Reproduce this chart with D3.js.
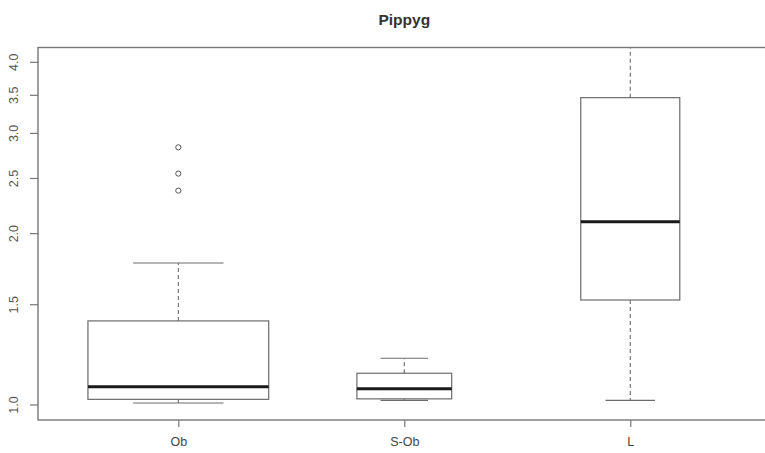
<!DOCTYPE html>
<html lang="en">
<head>
  <meta charset="UTF-8">
  <title>Pippyg</title>
  <script src="https://d3js.org/d3.v7.min.js"></script>
  <style>
    body { margin: 0; background: #fff; }
    text { font-family: "Liberation Sans", Arial, sans-serif; }
  </style>
</head>
<body>
  <svg id="chart" width="765" height="453"></svg>
  <script>
    // data
    const groups = ['Ob', 'S-Ob', 'L'];
    const counts = [40, 11, 12];
    const lowerWhisker = [1.008, 1.019, 1.019];
    const q1 = [1.023, 1.025, 1.529];
    const median = [1.076, 1.068, 2.099];
    const q3 = [1.405, 1.137, 3.467];
    const upperWhisker = [1.776, 1.208, 4.4];
    const outliers = [[2.38, 2.55, 2.836], [], []];
    const yTicks = [1.0, 1.5, 2.0, 2.5, 3.0, 3.5, 4.0];

    const svg = d3.select('#chart');
    const plotL = 38, plotR = 770.6, plotT = 47.5, plotB = 420;
    const lineCol = '#6b6b6b';

    const x = d3.scaleLinear().domain([0.379, 3.621]).range([plotL, plotR]);
    const y = d3.scaleLog().domain([0.941, 4.247]).range([plotB, plotT]);

    const maxN = d3.max(counts);
    const boxW = counts.map(n => 0.8 * Math.sqrt(n / maxN));

    svg.append('defs').append('clipPath').attr('id', 'plot')
      .append('rect').attr('x', plotL).attr('y', plotT)
      .attr('width', plotR - plotL).attr('height', plotB - plotT);

    const g = svg.append('g').attr('clip-path', 'url(#plot)');

    groups.forEach((name, i) => {
      const c = i + 1;
      const hw = boxW[i] / 2;
      const bx = g.append('g');

      // whiskers
      bx.append('line')
        .attr('x1', x(c)).attr('x2', x(c))
        .attr('y1', y(q3[i])).attr('y2', y(upperWhisker[i]))
        .attr('stroke', lineCol).attr('stroke-width', 1.1).attr('stroke-dasharray', '4,3');
      bx.append('line')
        .attr('x1', x(c)).attr('x2', x(c))
        .attr('y1', y(q1[i])).attr('y2', y(lowerWhisker[i]))
        .attr('stroke', lineCol).attr('stroke-width', 1.1).attr('stroke-dasharray', '4,3');
      // caps
      [lowerWhisker[i], upperWhisker[i]].forEach(v => {
        bx.append('line')
          .attr('x1', x(c - hw / 2)).attr('x2', x(c + hw / 2))
          .attr('y1', y(v)).attr('y2', y(v))
          .attr('stroke', lineCol).attr('stroke-width', 1.2);
      });
      // box
      bx.append('rect')
        .attr('x', x(c - hw)).attr('width', x(c + hw) - x(c - hw))
        .attr('y', y(q3[i])).attr('height', y(q1[i]) - y(q3[i]))
        .attr('fill', 'none').attr('stroke', lineCol).attr('stroke-width', 1.2);
      // median
      bx.append('line')
        .attr('x1', x(c - hw)).attr('x2', x(c + hw))
        .attr('y1', y(median[i])).attr('y2', y(median[i]))
        .attr('stroke', '#1a1a1a').attr('stroke-width', 3);
      // outliers
      bx.selectAll('circle').data(outliers[i]).join('circle')
        .attr('cx', x(c)).attr('cy', d => y(d)).attr('r', 2.6)
        .attr('fill', 'none').attr('stroke', '#555').attr('stroke-width', 1);
    });

    // frame
    svg.append('rect')
      .attr('x', plotL).attr('y', plotT)
      .attr('width', plotR - plotL).attr('height', plotB - plotT)
      .attr('fill', 'none').attr('stroke', '#777').attr('stroke-width', 1.4);

    // y axis
    const yAxis = svg.append('g').attr('transform', `translate(${plotL},0)`)
      .call(d3.axisLeft(y).tickValues(yTicks).tickSize(8).tickPadding(10)
        .tickFormat(d3.format('.1f')));
    yAxis.select('.domain').remove();
    yAxis.selectAll('line').attr('stroke', '#777').attr('stroke-width', 1.2);
    yAxis.selectAll('.tick').attr('transform', null);
    yAxis.selectAll('.tick line').attr('y1', d => y(d)).attr('y2', d => y(d));
    yAxis.selectAll('text')
      .attr('x', 0).attr('dy', 0)
      .attr('transform', d => `translate(-24,${y(d)}) rotate(-90)`)
      .attr('text-anchor', 'middle').attr('dominant-baseline', 'central')
      .attr('font-size', 12.5).attr('fill', '#555');

    // x axis
    const xAxis = svg.append('g').attr('transform', `translate(0,${plotB})`)
      .call(d3.axisBottom(x).tickValues([1, 2, 3]).tickSize(7).tickPadding(10)
        .tickFormat(d => groups[d - 1]));
    xAxis.select('.domain').remove();
    xAxis.selectAll('line').attr('stroke', '#777').attr('stroke-width', 1.2);
    xAxis.selectAll('text').attr('font-size', 12.5).attr('fill', '#444');

    // title
    svg.append('text')
      .attr('x', (plotL + plotR) / 2).attr('y', 25)
      .attr('text-anchor', 'middle')
      .attr('font-size', 15.5).attr('font-weight', 'bold').attr('fill', '#333')
      .text('Pippyg');
  </script>
</body>
</html>
